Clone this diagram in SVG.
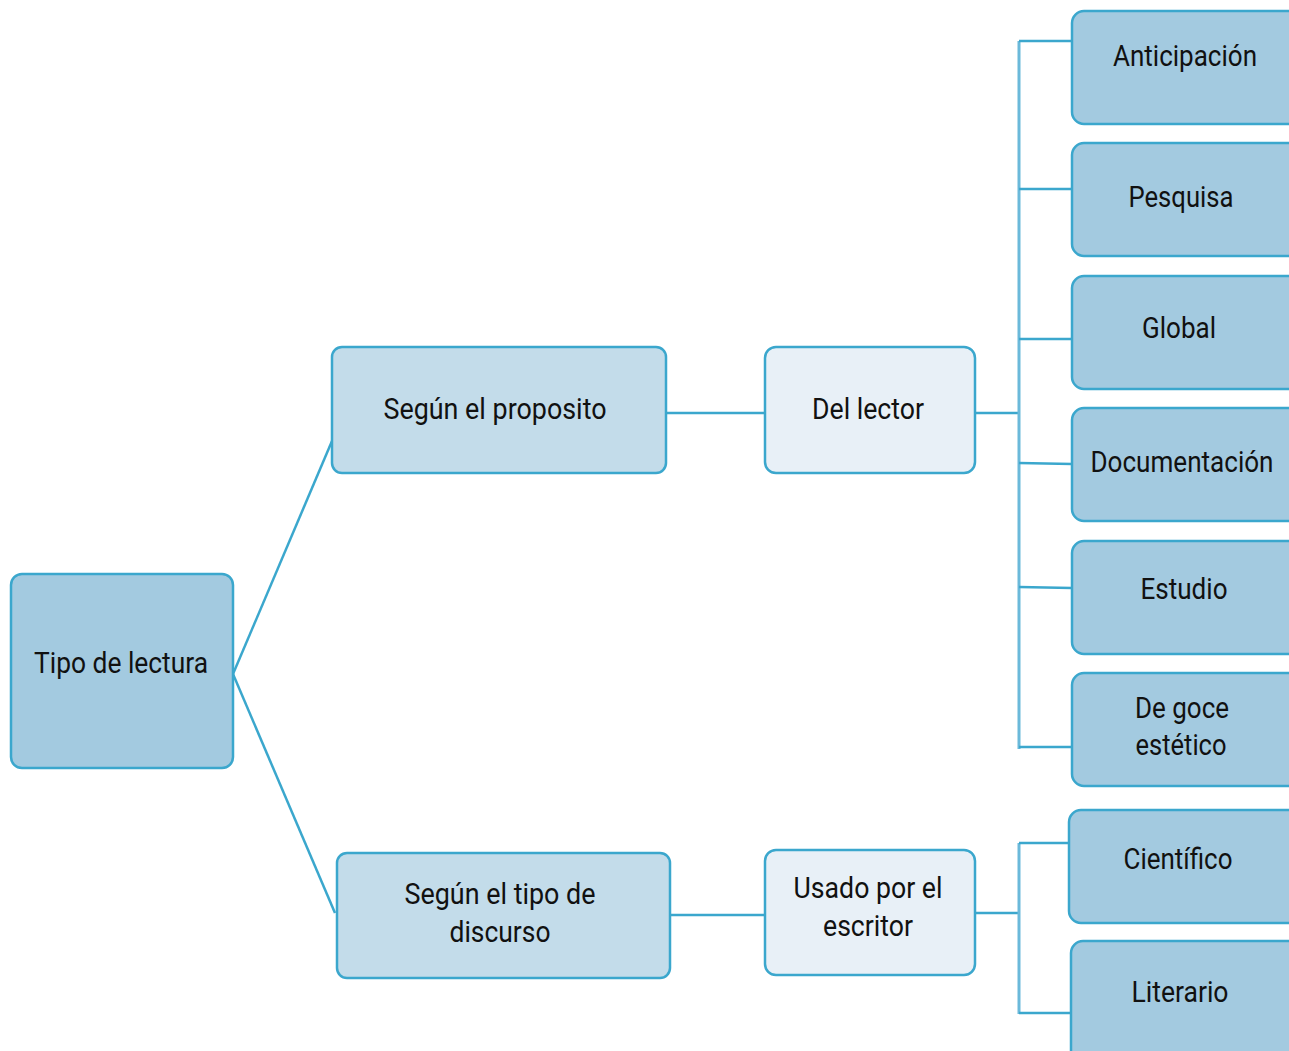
<svg xmlns="http://www.w3.org/2000/svg" width="1289" height="1051" viewBox="0 0 1289 1051">
<style>
.b{stroke:#3BA7CD;stroke-width:2.5}
.l0{fill:#A3CAE0}
.l1{fill:#C3DCEA}
.l2{fill:#E8F0F7}
.c{fill:none;stroke:#3BA7CD;stroke-width:2.5}
.v{fill:none;stroke:#6BB9DA;stroke-width:3}
text{font-family:"Roboto","Liberation Sans",sans-serif;font-size:30px;fill:#111;text-anchor:middle}
</style>
<rect width="1289" height="1051" fill="#fff"/>
<g id="connectors">
<line class="c" x1="233" y1="674" x2="332" y2="441"/>
<line class="c" x1="233" y1="674" x2="335" y2="913"/>
<line class="c" x1="666" y1="413" x2="765" y2="413"/>
<line class="c" x1="670" y1="915" x2="765" y2="915"/>
<line class="c" x1="975" y1="413" x2="1019" y2="413"/>
<line class="c" x1="975" y1="913" x2="1019" y2="913"/>
<line class="v" x1="1019" y1="41" x2="1019" y2="749"/>
<line class="v" x1="1019" y1="843" x2="1019" y2="1014"/>
<line class="c" x1="1019" y1="41" x2="1072" y2="41"/>
<line class="c" x1="1019" y1="189" x2="1072" y2="189"/>
<line class="c" x1="1019" y1="339" x2="1072" y2="339"/>
<line class="c" x1="1019" y1="463" x2="1072" y2="464"/>
<line class="c" x1="1019" y1="587" x2="1072" y2="588"/>
<line class="c" x1="1019" y1="747" x2="1072" y2="747"/>
<line class="c" x1="1019" y1="843" x2="1069" y2="843"/>
<line class="c" x1="1019" y1="1013" x2="1071" y2="1013"/>
</g>
<g id="tipo"><rect class="b l0" x="11" y="574" width="222" height="194" rx="11"/><text x="121" y="673" textLength="174" lengthAdjust="spacingAndGlyphs">Tipo de lectura</text></g>
<g id="proposito"><rect class="b l1" x="332" y="347" width="334" height="126" rx="10"/><text x="495" y="419" textLength="223" lengthAdjust="spacingAndGlyphs">Según el proposito</text></g>
<g id="lector"><rect class="b l2" x="765" y="347" width="210" height="126" rx="11"/><text x="868" y="419" textLength="112" lengthAdjust="spacingAndGlyphs">Del lector</text></g>
<g id="discurso"><rect class="b l1" x="337" y="853" width="333" height="125" rx="10"/><text x="500" y="904" textLength="191" lengthAdjust="spacingAndGlyphs">Según el tipo de</text><text x="500" y="942" textLength="101" lengthAdjust="spacingAndGlyphs">discurso</text></g>
<g id="escritor"><rect class="b l2" x="765" y="850" width="210" height="125" rx="11"/><text x="868" y="898" textLength="149" lengthAdjust="spacingAndGlyphs">Usado por el</text><text x="868" y="936" textLength="90" lengthAdjust="spacingAndGlyphs">escritor</text></g>
<g id="anticipacion"><rect class="b l0" x="1072" y="11" width="230" height="113" rx="12"/><text x="1185" y="66" textLength="144" lengthAdjust="spacingAndGlyphs">Anticipación</text></g>
<g id="pesquisa"><rect class="b l0" x="1072" y="143" width="230" height="113" rx="12"/><text x="1181" y="207" textLength="105" lengthAdjust="spacingAndGlyphs">Pesquisa</text></g>
<g id="global"><rect class="b l0" x="1072" y="276" width="230" height="113" rx="12"/><text x="1179" y="338" textLength="74" lengthAdjust="spacingAndGlyphs">Global</text></g>
<g id="documentacion"><rect class="b l0" x="1072" y="408" width="230" height="113" rx="12"/><text x="1182" y="472" textLength="183" lengthAdjust="spacingAndGlyphs">Documentación</text></g>
<g id="estudio"><rect class="b l0" x="1072" y="541" width="230" height="113" rx="12"/><text x="1184" y="599" textLength="87" lengthAdjust="spacingAndGlyphs">Estudio</text></g>
<g id="goce"><rect class="b l0" x="1072" y="673" width="230" height="113" rx="12"/><text x="1182" y="718" textLength="94" lengthAdjust="spacingAndGlyphs">De goce</text><text x="1181" y="755" textLength="91" lengthAdjust="spacingAndGlyphs">estético</text></g>
<g id="cientifico"><rect class="b l0" x="1069" y="810" width="233" height="113" rx="12"/><text x="1178" y="869" textLength="109" lengthAdjust="spacingAndGlyphs">Científico</text></g>
<g id="literario"><rect class="b l0" x="1071" y="941" width="231" height="125" rx="12"/><text x="1180" y="1002" textLength="97" lengthAdjust="spacingAndGlyphs">Literario</text></g>
</svg>
